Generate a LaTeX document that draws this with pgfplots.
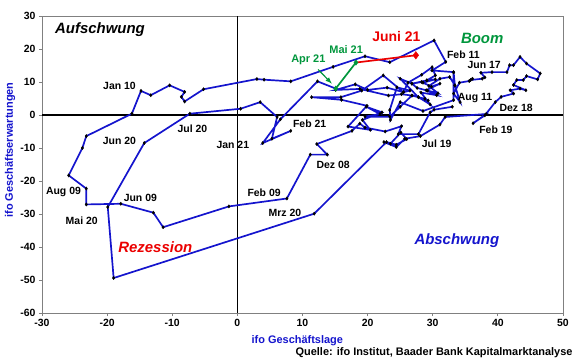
\documentclass[border=0pt]{standalone}
\usepackage{fontspec}
\setmainfont{Liberation Sans}
\usepackage{pgfplots}
\pgfplotsset{compat=1.18}
\definecolor{lineblue}{RGB}{20,20,205}
\definecolor{boomgreen}{RGB}{0,150,60}
\definecolor{juni}{RGB}{235,0,0}
\definecolor{framegray}{RGB}{128,128,128}
\newcommand\lab{\fontsize{10.5}{12}\selectfont\bfseries}
\newcommand\quadlab{\fontsize{15}{17}\selectfont\bfseries\itshape}
\begin{document}
\begin{tikzpicture}
\begin{axis}[name=ax, scale only axis, width=521bp, height=297bp,
 xmin=-30,xmax=50,ymin=-60,ymax=30,
 xtick={-30,-20,...,50}, ytick={-60,-50,...,30},
 tick align=outside, tick pos=left, major tick length=3bp,
 axis line style={framegray, line width=0.8pt},
 tick style={framegray, line width=0.8pt},
 ticklabel style={font=\fontsize{10.5}{12}\selectfont\bfseries},
 /pgf/number format/assume math mode=true,
 clip=false,
]
\draw[black, line width=1.4pt] (axis cs:0,-60) -- (axis cs:0,30);
\draw[black, line width=1.4pt] (axis cs:-30,0) -- (axis cs:50,0);
% path Jan 2008 - Apr 2021
\addplot[lineblue, line width=1.7pt, mark=diamond*, mark size=1.7pt, mark options={fill=black,draw=black,line width=0.3pt}] coordinates {
(33.0,2.5) (30.2,1.6) (29.6,0.8) (27.8,-5.8) (24.7,-5.8) (25.2,-3.4) (22.7,-5.0) (19.6,-3.8) (18.8,-2.6) (17.6,-4.8) (12.2,-8.8) (13.8,-12.0)
(11.2,-12.0) (7.6,-25.3) (-1.3,-27.7) (-11.4,-34.0) (-12.9,-29.6) (-17.9,-26.9) (-23.2,-27.1) (-23.2,-22.3) (-25.9,-18.3) (-23.8,-10.0) (-23.2,-6.4) (-16.2,0.4)
(-14.8,7.3) (-13.3,6.0) (-10.4,9.0) (-8.1,7.0) (-8.6,5.5) (-8.1,4.1) (-5.2,7.8) (3.0,10.9) (4.1,10.7) (8.2,10.2) (14.7,14.6) (19.6,17.8)
(23.4,16.0) (30.2,22.6) (32.0,16.1) (29.9,13.5) (33.2,13.0) (33.4,9.0) (33.2,12.9) (33.2,4.5) (28.5,1.2) (25.0,3.9) (23.5,-1.5) (23.4,1.5)
(24.5,8.4) (26.5,7.4) (25.5,6.9) (22.4,12.0) (19.1,7.4) (15.9,5.4) (11.4,5.4) (16.0,4.6) (19.9,2.8) (17.0,-3.5) (20.4,-4.5) (19.2,-1.5)
(22.2,0.8) (19.8,2.5) (21.9,0.3) (19.6,-0.5) (23.4,-0.5) (25.0,2.5) (26.8,5.9) (27.8,5.4) (25.0,11.0) (26.8,9.5) (28.3,10.0) (29.1,10.5)
(30.4,12.0) (29.9,14.5) (28.3,12.2) (26.2,9.8) (25.5,6.9) (23.0,8.3) (20.0,7.6) (18.1,9.3) (15.1,7.6) (18.8,7.9) (23.2,5.9) (25.2,6.3)
(26.8,5.9) (28.8,4.9) (29.3,4.4) (27.8,5.4) (29.6,3.2) (28.2,6.8) (30.6,6.0) (29.0,7.5) (31.1,9.5) (29.8,8.6) (28.5,9.8) (30.4,10.8)
(29.1,10.5) (26.8,9.5) (27.6,8.2) (29.2,7.4) (30.8,6.6) (29.4,8.8) (31.1,11.0) (32.6,11.5) (33.4,9.0) (34.2,3.9) (33.2,6.5) (34.1,9.8)
(35.6,10.3) (36.1,11.0) (35.8,10.6) (37.6,11.0) (38.0,11.4) (37.4,12.8) (39.1,13.0) (41.4,13.0) (41.8,15.1) (42.4,15.1) (43.4,17.6) (44.4,15.6)
(46.5,12.6) (46.1,10.8) (44.4,11.8) (43.9,10.6) (42.9,10.6) (42.4,9.1) (44.3,7.5) (43.4,8.0) (41.9,7.5) (42.4,6.5) (40.5,5.5) (39.6,3.9)
(38.0,-0.1) (36.2,-2.5) (38.2,0.3) (31.9,-0.6) (31.1,-2.9) (28.1,-6.4) (25.7,-7.2) (24.4,-9.7) (22.5,-8.2) (23.5,-8.7) (25.1,-5.3) (26.0,-7.3)
(24.4,-9.0) (22.9,-8.2) (11.8,-29.9) (-19.0,-49.4) (-19.9,-27.9) (-14.3,-8.5) (-7.3,0.4) (0.5,1.9) (3.5,3.9) (6.1,-0.6) (5.3,-7.2) (8.2,-4.8)
(3.9,-8.5) (6.6,-1.3) (12.3,10.2) (15.1,8.0)
};
\addplot[boomgreen, line width=1.7pt, mark=diamond*, mark size=1.7pt, mark options={fill=boomgreen,draw=boomgreen}] coordinates {(15.1,8.0) (18.2,15.9)};
\addplot[juni, line width=1.7pt] coordinates {(18.2,15.9) (27.4,18.1)};
\addplot[juni, only marks, mark=diamond*, mark size=3.8pt, mark options={fill=juni,draw=juni}] coordinates {(27.4,18.1)};
% quadrant labels
\node[font=\quadlab, black] at (axis cs:-21.1,25.8) {Aufschwung};
\node[font=\quadlab, boomgreen] at (axis cs:37.6,23.3) {Boom};
\node[font=\quadlab, juni] at (axis cs:-12.6,-40) {Rezession};
\node[font=\quadlab, lineblue] at (axis cs:33.7,-38.2) {Abschwung};
% highlights
\node[font=\fontsize{14}{16}\selectfont\bfseries, juni] at (axis cs:24.4,23.9) {Juni 21};
\node[font=\fontsize{11}{13}\selectfont\bfseries, boomgreen] at (axis cs:16.7,19.7) {Mai 21};
\node[font=\fontsize{11}{13}\selectfont\bfseries, boomgreen] at (axis cs:10.9,16.8) {Apr 21};
\draw[boomgreen, line width=1.2pt, -latex] (axis cs:12.4,13.8) -- (axis cs:14.5,9.5);
% date labels
\node[font=\lab] at (axis cs:34.7,18.3) {Feb 11};
\node[font=\lab] at (axis cs:37.9,15.1) {Jun 17};
\node[font=\lab] at (axis cs:36.5,5.2) {Aug 11};
\node[font=\lab] at (axis cs:42.8,2.1) {Dez 18};
\node[font=\lab] at (axis cs:39.7,-4.6) {Feb 19};
\node[font=\lab] at (axis cs:30.6,-8.7) {Jul 19};
\node[font=\lab] at (axis cs:14.7,-15.2) {Dez 08};
\node[font=\lab] at (axis cs:11.1,-2.6) {Feb 21};
\node[font=\lab] at (axis cs:-0.7,-9.1) {Jan 21};
\node[font=\lab] at (axis cs:-6.9,-4.1) {Jul 20};
\node[font=\lab] at (axis cs:-18.1,-7.9) {Jun 20};
\node[font=\lab] at (axis cs:-18.1,8.7) {Jan 10};
\node[font=\lab] at (axis cs:-26.7,-23.4) {Aug 09};
\node[font=\lab] at (axis cs:-14.9,-25.2) {Jun 09};
\node[font=\lab] at (axis cs:-23.9,-32.0) {Mai 20};
\node[font=\lab] at (axis cs:4.1,-23.5) {Feb 09};
\node[font=\lab] at (axis cs:7.3,-29.8) {Mrz 20};
% axis titles and source
\node[font=\fontsize{11}{13}\selectfont\bfseries, lineblue, rotate=90] at (axis cs:-34.9,-10.6) {ifo Geschäftserwartungen};
\node[font=\fontsize{11}{13}\selectfont\bfseries, lineblue] at (axis cs:9.2,-68.4) {ifo Geschäftslage};
\node[font=\fontsize{11}{13}\selectfont\bfseries, anchor=east] at (axis cs:52.0,-72.1) {Quelle: ifo Institut, Baader Bank Kapitalmarktanalyse};
\end{axis}
\pgfresetboundingbox
\path (ax.south west) ++(-42bp,-46bp) rectangle ++(580bp,359bp);
\end{tikzpicture}
\end{document}
